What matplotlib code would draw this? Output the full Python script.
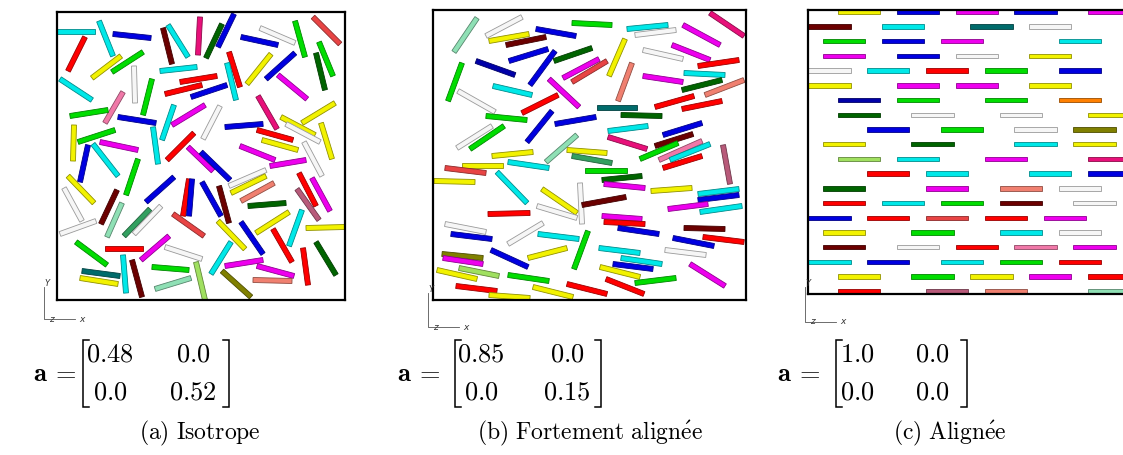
import numpy as np
import matplotlib
matplotlib.use("Agg")
import matplotlib.pyplot as plt
from matplotlib.patches import Polygon
from matplotlib.colors import to_rgb

plt.rcParams["mathtext.fontset"] = "cm"

# ── fibre colours ─────────────────────────────────────────────────────────────
COLORS = {
    "r": "#ff0000", "b": "#0000e0", "nb": "#0000a8", "c": "#00e8e8",
    "g": "#00dd00", "y": "#f2f200", "m": "#ee00ee", "dg": "#006400",
    "mr": "#6b0000", "w": "#f6f6f6", "dp": "#e8107a", "sa": "#f08070",
    "tr": "#e84444", "tl": "#006b6b", "aq": "#8fe0b5", "ol": "#808000",
    "lg": "#a0e060", "or": "#ff8000", "mv": "#b85a7a", "sg": "#33a060",
    "hp": "#f078a8",
}

# ── (a) isotropic: fibre end points, box units (288 x 288, y downward) ────────
iso_x0 = [0, 42, 56, 106, 111, 143, 28, 64, 86, 77,
          103, 123, 108, 134, 3, 66, 95, 13, 61, 117,
          115, 17, 58, 31, 36, 43, 96, 137, 131, 163,
          165, 177, 184, 203, 238, 256, 262, 259, 172, 170,
          214, 238, 221, 201, 278, 224, 229, 264, 168, 200,
          205, 247, 183, 144, 11, 7, 81, 117, 132, 135,
          145, 60, 65, 93, 104, 39, 116, 19, 48, 112,
          108, 66, 75, 95, 25, 23, 98, 139, 213, 172,
          174, 184, 162, 242, 255, 240, 191, 232, 161, 184,
          245, 249, 216, 174, 168, 200, 246, 259, 165, 196]
iso_y0 = [19, 9, 22, 16, 13, 5, 25, 44, 40, 54,
          59, 70, 82, 85, 67, 80, 67, 104, 105, 93,
          113, 113, 118, 133, 132, 130, 115, 121, 135, 94,
          12, 2, 25, 16, 9, 5, 30, 41, 40, 51,
          42, 41, 63, 84, 91, 105, 112, 111, 115, 118,
          128, 130, 134, 140, 164, 176, 147, 165, 167, 167,
          170, 178, 191, 197, 194, 209, 202, 230, 236, 224,
          235, 243, 248, 255, 259, 266, 277, 250, 154, 174,
          181, 189, 174, 161, 166, 177, 194, 200, 209, 210,
          198, 216, 217, 230, 254, 254, 236, 230, 259, 268]
iso_x1 = [38, 56, 94, 115, 131, 141, 11, 35, 55, 78,
          140, 160, 145, 170, 35, 48, 86, 51, 99, 105,
          148, 16, 21, 23, 61, 81, 101, 110, 156, 146,
          149, 161, 221, 238, 248, 283, 276, 268, 183, 179,
          190, 209, 250, 220, 245, 258, 263, 275, 206, 236,
          241, 265, 218, 173, 37, 25, 69, 89, 126, 132,
          164, 44, 50, 67, 77, 3, 147, 50, 86, 84,
          145, 69, 85, 132, 63, 61, 134, 148, 249, 209,
          209, 217, 172, 259, 273, 262, 229, 199, 188, 206,
          232, 288, 235, 154, 206, 237, 251, 279, 194, 235]
iso_y1 = [19, 44, 26, 52, 45, 43, 59, 66, 60, 91,
          55, 64, 73, 73, 88, 111, 103, 98, 111, 128,
          93, 149, 130, 170, 164, 138, 152, 148, 159, 127,
          46, 35, 33, 31, 45, 32, 64, 78, 75, 88,
          72, 67, 87, 117, 111, 123, 130, 147, 112, 128,
          138, 164, 148, 168, 191, 209, 183, 190, 204, 204,
          204, 212, 225, 224, 222, 222, 224, 253, 236, 248,
          247, 281, 285, 258, 264, 272, 266, 288, 148, 158,
          164, 171, 211, 194, 199, 208, 191, 221, 237, 242,
          234, 215, 250, 262, 248, 264, 273, 263, 285, 269]
iso_col = ["c", "c", "b", "mr", "c", "dp", "r", "y", "g", "w",
           "c", "r", "r", "b", "c", "hp", "g", "g", "b", "c",
           "m", "y", "g", "b", "c", "m", "c", "r", "m", "w",
           "dg", "b", "b", "w", "g", "tr", "g", "dg", "r", "c",
           "y", "b", "m", "dp", "y", "y", "w", "y", "b", "r",
           "y", "w", "m", "b", "y", "w", "g", "b", "r", "b",
           "b", "mr", "aq", "sg", "w", "w", "tr", "g", "r", "m",
           "w", "c", "mr", "g", "tl", "y", "aq", "lg", "m", "w",
           "y", "sa", "mr", "r", "m", "mv", "dg", "y", "y", "b",
           "c", "y", "r", "c", "m", "m", "r", "dg", "ol", "sa"]

# ── (b) strongly aligned: end points, box units (313 x 290) ───────────────────
ali_x0 = [44, 89, 56, 73, 103, 139, 76, 121, 43, 122,
          29, 130, 139, 60, 116, 25, 125, 53, 119, 122,
          59, 71, 144, 59, 134, 139, 194, 202, 277, 250,
          239, 210, 192, 265, 251, 210, 249, 272, 199, 164,
          222, 249, 188, 175, 230, 175, 222, 207, 226, 237,
          290, 269, 29, 12, 1, 75, 64, 152, 109, 147,
          104, 55, 149, 12, 18, 110, 105, 155, 9, 10,
          58, 134, 4, 26, 75, 23, 56, 100, 134, 169,
          171, 218, 265, 265, 235, 267, 169, 171, 185, 251,
          270, 240, 166, 232, 188, 180, 257, 167, 202, 173]
ali_y0 = [8, 7, 31, 35, 19, 13, 51, 51, 51, 41,
          53, 68, 72, 76, 69, 81, 85, 106, 101, 114,
          116, 116, 125, 146, 140, 146, 19, 25, 3, 15,
          35, 40, 29, 56, 63, 66, 80, 85, 53, 97,
          97, 99, 105, 121, 125, 127, 136, 149, 150, 150,
          135, 146, 155, 158, 171, 152, 162, 160, 179, 173,
          196, 204, 195, 214, 224, 213, 224, 221, 244, 248,
          240, 238, 260, 258, 265, 276, 285, 277, 274, 170,
          174, 181, 184, 190, 199, 202, 206, 212, 218, 218,
          227, 228, 238, 240, 248, 254, 254, 257, 273, 269]
ali_x1 = [21, 53, 96, 113, 143, 179, 115, 159, 82, 97,
          15, 166, 174, 99, 146, 62, 89, 94, 94, 163,
          24, 37, 113, 100, 174, 179, 235, 243, 311, 287,
          277, 250, 176, 306, 292, 250, 289, 311, 185, 204,
          261, 289, 229, 215, 269, 214, 260, 245, 269, 277,
          297, 230, 70, 53, 42, 116, 94, 194, 144, 149,
          144, 97, 193, 53, 59, 75, 146, 141, 50, 50,
          95, 95, 44, 66, 116, 64, 97, 140, 174, 209,
          212, 259, 306, 306, 275, 309, 209, 212, 226, 292,
          311, 281, 207, 273, 229, 220, 292, 207, 243, 211]
ali_y1 = [42, 26, 24, 27, 26, 15, 39, 38, 65, 75,
          91, 49, 51, 85, 97, 102, 103, 110, 132, 107,
          138, 139, 152, 142, 143, 153, 15, 20, 26, 35,
          50, 49, 66, 50, 65, 72, 70, 70, 91, 97,
          86, 91, 106, 116, 113, 139, 124, 133, 131, 134,
          174, 158, 155, 163, 172, 158, 193, 160, 203, 214,
          208, 203, 187, 222, 229, 234, 229, 259, 248, 254,
          257, 248, 269, 266, 271, 281, 288, 287, 284, 166,
          178, 178, 179, 185, 194, 196, 209, 214, 224, 219,
          232, 236, 243, 245, 254, 259, 276, 267, 268, 284]
ali_col = ["aq", "w", "y", "mr", "b", "g", "b", "dg", "nb", "b",
           "g", "m", "tr", "c", "m", "w", "r", "g", "b", "b",
           "w", "g", "aq", "y", "y", "sg", "c", "w", "dp", "m",
           "m", "w", "y", "r", "c", "m", "dg", "sa", "sa", "tl",
           "r", "r", "dg", "c", "b", "dp", "mr", "g", "hp", "c",
           "mv", "r", "y", "tr", "y", "c", "c", "g", "y", "w",
           "w", "r", "mr", "w", "b", "w", "c", "g", "ol", "m",
           "b", "y", "y", "lg", "g", "r", "y", "y", "r", "dg",
           "m", "y", "c", "b", "m", "c", "m", "r", "b", "mr",
           "r", "b", "c", "w", "c", "b", "m", "y", "g", "r"]

# ── (c) aligned: grid column of each fibre start, colour, per row ─────────────
row_cols = [[2, 6, 10, 14, 19], [0, 5, 11, 15], [1, 5, 9, 17], [1, 6, 10, 15],
            [0, 4, 8, 12, 17], [0, 6, 10, 15], [2, 6, 12, 17], [2, 7, 13, 19],
            [4, 9, 14, 18], [1, 7, 14, 18], [2, 6, 12, 19], [4, 8, 15, 19],
            [1, 8, 13, 17], [1, 5, 9, 13, 18], [0, 4, 8, 12, 16], [1, 7, 13, 17],
            [1, 6, 10, 14, 18], [0, 4, 9, 13, 17], [2, 7, 11, 15, 19], [2, 8, 12, 19]]
row_colors = [["y", "b", "m", "b", "m"], ["mr", "c", "tl", "w"],
              ["g", "b", "m", "c"], ["m", "b", "w", "y"],
              ["w", "c", "r", "g", "b"], ["y", "m", "m", "y"],
              ["nb", "g", "g", "or"], ["dg", "w", "w", "y"],
              ["b", "g", "w", "ol"], ["y", "dg", "c", "y"],
              ["lg", "c", "m", "dp"], ["r", "c", "c", "b"],
              ["dg", "m", "sa", "w"], ["r", "c", "g", "mr", "w"],
              ["b", "r", "tr", "r", "m"], ["y", "g", "c", "w"],
              ["mr", "w", "r", "hp", "m"], ["c", "b", "c", "g", "r"],
              ["y", "g", "y", "m", "r"], ["r", "mv", "sa", "aq"]]

mat_vals = [["0.48", "0.0", "0.0", "0.52"],
            ["0.85", "0.0", "0.0", "0.15"],
            ["1.0", "0.0", "0.0", "0.0"]]
captions = [r"$\mathrm{(a)\ Isotrope}$",
            r"$\mathrm{(b)\ Fortement\ align\acute{e}e}$",
            r"$\mathrm{(c)\ Align\acute{e}e}$"]

W, H = 1123, 455


def draw_fibre(ax, x0, y0, x1, y1, key, width):
    p0 = np.array([x0, y0], float)
    p1 = np.array([x1, y1], float)
    d = p1 - p0
    n = np.array([-d[1], d[0]]) / np.hypot(*d) * width / 2
    fc = COLORS[key]
    ec = "#9a9a9a" if key == "w" else tuple(0.6 * v for v in to_rgb(fc))
    ax.add_patch(Polygon([p0 + n, p1 + n, p1 - n, p0 - n], closed=True,
                         facecolor=fc, edgecolor=ec, linewidth=0.6))


def make_box(left, top, bw, bh):
    ax = fig.add_axes([left / W, 1 - (top + bh) / H, bw / W, bh / H])
    ax.set_xlim(0, bw)
    ax.set_ylim(bh, 0)
    ax.set_xticks([])
    ax.set_yticks([])
    for s in ax.spines.values():
        s.set_linewidth(1.6)
        s.set_color("black")
    return ax


fig = plt.figure(figsize=(W / 100, H / 100), dpi=100)

ax_a = make_box(57, 12, 288, 288)
for i in range(len(iso_col)):
    draw_fibre(ax_a, iso_x0[i], iso_y0[i], iso_x1[i], iso_y1[i], iso_col[i], 5.0)

ax_b = make_box(433, 10, 313, 290)
for i in range(len(ali_col)):
    draw_fibre(ax_b, ali_x0[i], ali_y0[i], ali_x1[i], ali_y1[i], ali_col[i], 5.0)

ax_c = make_box(808, 10, 330, 284)
step, flen = 14.72, 42.3
for r, (cols, keys) in enumerate(zip(row_cols, row_colors)):
    y = 1.7 + r * step
    for j, k in zip(cols, keys):
        x = 0.3 + j * step
        draw_fibre(ax_c, x, y, x + flen, y, k, 4.4)

# ── overlay in pixel units for labels, triads and matrices ───────────────────
ov = fig.add_axes([0, 0, 1, 1], facecolor="none")
ov.set_xlim(0, W)
ov.set_ylim(H, 0)
ov.axis("off")

triads = [(44, 287, 319), (428, 293, 327), (805, 287, 322)]
for tx, ty0, ty1 in triads:
    ov.plot([tx, tx, tx + 31], [ty0, ty1, ty1], color="#555555", lw=0.6)
    ov.text(tx + 3, ty0 - 4, "Y", fontsize=6, color="#333333", ha="center", va="center",
            style="italic")
    ov.text(tx + 7, ty1, "z", fontsize=6.5, color="#333333", ha="center", va="center",
            style="italic")
    ov.text(tx + 38, ty1, "x", fontsize=6.5, color="#333333", ha="center", va="center",
            style="italic")

# a = [ ... ] blocks: (x of "a", left bracket, col centres, right bracket)
mats = [(40, 83, 110, 193, 229), (404, 455, 481, 567, 601), (784, 836, 857, 932, 967)]
for (xa, bl, c1, c2, br), vals in zip(mats, mat_vals):
    ov.text(xa, 374, r"$\mathbf{a}$", fontsize=19, ha="center", va="center")
    ov.text(xa + 24, 373, r"$=$", fontsize=19, ha="center", va="center")
    for x in (bl, br):
        sgn = 1 if x == bl else -1
        ov.plot([x + sgn * 6, x, x, x + sgn * 6], [340, 340, 407, 407],
                color="black", lw=1.1, solid_joinstyle="miter")
    ov.text(c1, 354, "$" + vals[0] + "$", fontsize=19, ha="center", va="center")
    ov.text(c2, 354, "$" + vals[1] + "$", fontsize=19, ha="center", va="center")
    ov.text(c1, 392, "$" + vals[2] + "$", fontsize=19, ha="center", va="center")
    ov.text(c2, 392, "$" + vals[3] + "$", fontsize=19, ha="center", va="center")

for cx, cap in zip([200, 590, 950], captions):
    ov.text(cx, 433, cap, fontsize=17, ha="center", va="center")

fig.savefig("out.png", dpi=100)
